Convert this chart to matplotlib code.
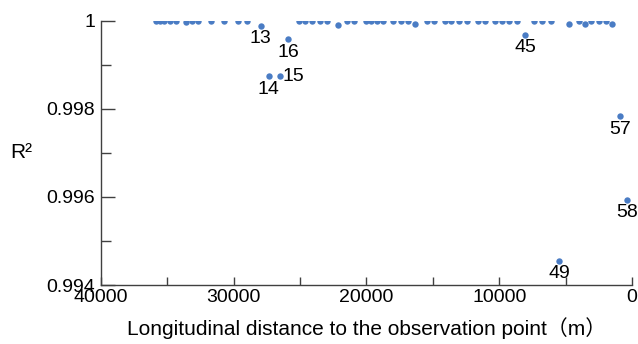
import numpy as np
import matplotlib.pyplot as plt
from matplotlib.ticker import MultipleLocator

plt.rcParams['font.family'] = ['Liberation Sans', 'Noto Sans CJK JP', 'DejaVu Sans']

# observation stations, numbered from far to near
station = np.arange(1, 59)
distance = [35810, 35560, 35260, 34810, 34310, 33560, 33110, 32650, 31680, 30750,
            29650, 29020, 27970, 27370, 26540, 25870, 25110, 24590, 24060, 23460,
            22930, 22110, 21430, 20900, 20000, 19630, 19170, 18720, 17970, 17370,
            16840, 16320, 15410, 14890, 14060, 13610, 13010, 12410, 11580, 11050,
            10300, 9780, 9250, 8650, 8050, 7370, 6770, 6090, 5490, 4740,
            3990, 3530, 3080, 2480, 1960, 1500, 900, 380]
r2 = [1.0, 1.0, 1.0, 1.0, 1.0, 0.99998, 1.0, 1.0, 1.0, 1.0,
      1.0, 1.0, 0.99988, 0.99874, 0.99874, 0.99958, 1.0, 1.0, 1.0, 1.0,
      1.0, 0.99992, 1.0, 1.0, 0.99999, 1.0, 1.0, 1.0, 0.99999, 1.0,
      1.0, 0.99994, 1.0, 1.0, 1.0, 1.0, 1.0, 1.0, 1.0, 1.0,
      1.0, 1.0, 1.0, 1.0, 0.99969, 1.0, 1.0, 1.0, 0.99454, 0.99994,
      1.0, 0.99994, 1.0, 1.0, 1.0, 0.99994, 0.99783, 0.99594]

# stations that get a number next to them, and where the number goes
labelled = [13, 14, 15, 16, 45, 49, 57, 58]
label_side = {15: 'right'}

fig = plt.figure(figsize=(6.38, 3.44), dpi=100)
ax = fig.add_axes([0.158, 0.1715, 0.8326, 0.7675])

ax.plot(distance, r2, 'o', color='#4a7cc4', markersize=4.6, markeredgewidth=0)

for s in labelled:
    x = distance[s - 1]
    y = r2[s - 1]
    if label_side.get(s) == 'right':
        ax.annotate(str(s), (x, y), xytext=(2, 0), textcoords='offset points',
                    ha='left', va='center', fontsize=14)
    else:
        ax.annotate(str(s), (x, y), xytext=(0, -3), textcoords='offset points',
                    ha='center', va='top', fontsize=14)

ax.set_xlim(40000, 0)
ax.set_ylim(0.994, 1.0)
ax.xaxis.set_major_locator(MultipleLocator(10000))
ax.xaxis.set_minor_locator(MultipleLocator(5000))
ax.yaxis.set_major_locator(MultipleLocator(0.002))
ax.yaxis.set_minor_locator(MultipleLocator(0.001))
ax.set_yticks([0.994, 0.996, 0.998, 1.0], ['0.994', '0.996', '0.998', '1'])

ax.spines['top'].set_visible(False)
ax.spines['right'].set_visible(False)
for sp in ('left', 'bottom'):
    ax.spines[sp].set_color('#404040')
    ax.spines[sp].set_linewidth(1)

ax.tick_params(axis='y', which='major', direction='in', length=10, width=1,
               color='#404040', labelsize=14, pad=4)
ax.tick_params(axis='y', which='minor', direction='in', length=7, width=1,
               color='#404040')
ax.tick_params(axis='x', which='both', direction='in', length=6, width=1,
               color='#404040', labelsize=14, pad=3)

ax.set_xlabel('Longitudinal distance to the observation point（m）', fontsize=15,
              labelpad=8)
ax.set_ylabel('R²', fontsize=15, rotation=0, ha='center', va='center')
ax.yaxis.set_label_coords(-0.15, 0.5)

fig.savefig('out.png', dpi=100)
